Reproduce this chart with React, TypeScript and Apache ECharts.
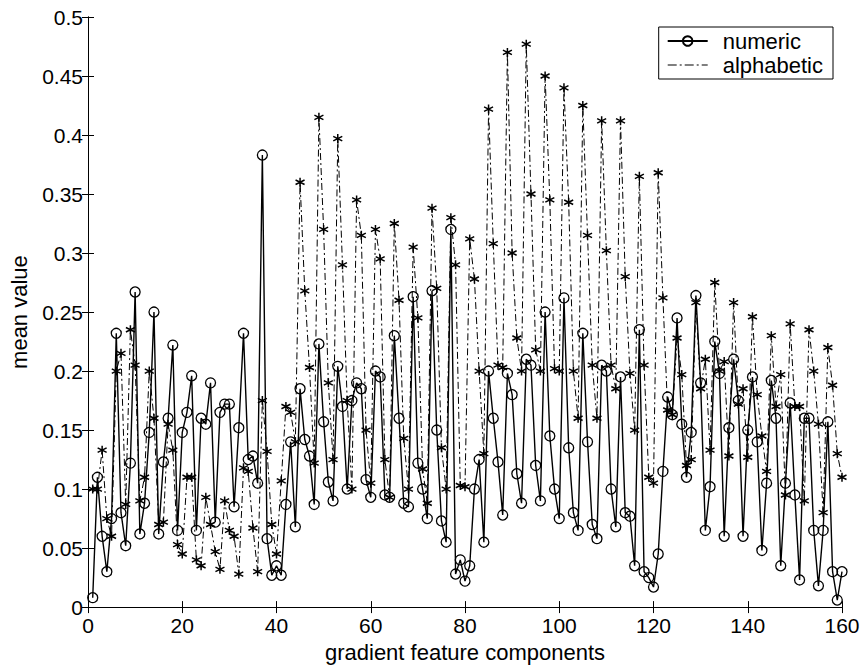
import React, { useEffect, useRef } from "react";
import * as echarts from "echarts";

const xIndex: number[] = Array.from({ length: 160 }, (_, k) => k + 1);

const numericValues: number[] = [
  0.008, 0.11, 0.06, 0.03, 0.075, 0.232, 0.08, 0.052, 0.122, 0.267,
  0.062, 0.088, 0.148, 0.25, 0.062, 0.123, 0.16, 0.222, 0.065, 0.148,
  0.165, 0.196, 0.065, 0.16, 0.155, 0.19, 0.072, 0.165, 0.172, 0.172,
  0.085, 0.152, 0.232, 0.125, 0.128, 0.105, 0.383, 0.058, 0.027, 0.035,
  0.027, 0.087, 0.14, 0.068, 0.185, 0.142, 0.128, 0.087, 0.223, 0.157,
  0.106, 0.09, 0.204, 0.17, 0.1, 0.175, 0.19, 0.185, 0.108, 0.093,
  0.2, 0.195, 0.095, 0.093, 0.23, 0.16, 0.088, 0.085, 0.263, 0.122,
  0.1, 0.075, 0.268, 0.15, 0.073, 0.055, 0.32, 0.028, 0.04, 0.022,
  0.035, 0.1, 0.125, 0.055, 0.2, 0.16, 0.123, 0.078, 0.198, 0.18,
  0.113, 0.088, 0.21, 0.205, 0.12, 0.09, 0.25, 0.145, 0.1, 0.075,
  0.262, 0.135, 0.08, 0.065, 0.232, 0.14, 0.07, 0.058, 0.205, 0.2,
  0.1, 0.068, 0.195, 0.08, 0.077, 0.035, 0.235, 0.03, 0.025, 0.017,
  0.045, 0.115, 0.178, 0.163, 0.245, 0.155, 0.11, 0.148, 0.264, 0.19,
  0.065, 0.102, 0.225, 0.198, 0.06, 0.152, 0.21, 0.175, 0.06, 0.15,
  0.195, 0.14, 0.048, 0.105, 0.192, 0.16, 0.035, 0.105, 0.173, 0.095,
  0.023, 0.16, 0.16, 0.065, 0.018, 0.065, 0.157, 0.03, 0.006, 0.03,
];

const alphabeticValues: number[] = [
  0.1, 0.1, 0.133, 0.075, 0.06, 0.2, 0.215, 0.087, 0.235, 0.205,
  0.09, 0.11, 0.2, 0.16, 0.07, 0.072, 0.155, 0.133, 0.053, 0.045,
  0.11, 0.11, 0.04, 0.035, 0.093, 0.07, 0.047, 0.032, 0.09, 0.065,
  0.06, 0.028, 0.118, 0.115, 0.067, 0.03, 0.175, 0.132, 0.07, 0.045,
  0.107, 0.17, 0.165, 0.14, 0.36, 0.268, 0.203, 0.122, 0.415, 0.32,
  0.19, 0.125, 0.397, 0.29, 0.175, 0.1, 0.345, 0.315, 0.15, 0.105,
  0.32, 0.295, 0.125, 0.093, 0.325, 0.26, 0.143, 0.1, 0.305, 0.245,
  0.117, 0.088, 0.338, 0.27, 0.135, 0.1, 0.33, 0.29, 0.103, 0.102,
  0.312, 0.278, 0.2, 0.13, 0.422, 0.308, 0.205, 0.203, 0.47, 0.3,
  0.228, 0.2, 0.477, 0.35, 0.218, 0.2, 0.45, 0.345, 0.202, 0.2,
  0.44, 0.343, 0.2, 0.16, 0.425, 0.315, 0.205, 0.16, 0.412, 0.302,
  0.205, 0.185, 0.412, 0.28, 0.198, 0.15, 0.365, 0.205, 0.11, 0.105,
  0.368, 0.262, 0.167, 0.163, 0.228, 0.197, 0.12, 0.125, 0.258, 0.185,
  0.21, 0.133, 0.275, 0.2, 0.208, 0.128, 0.258, 0.172, 0.185, 0.127,
  0.246, 0.18, 0.145, 0.115, 0.23, 0.17, 0.197, 0.095, 0.24, 0.17,
  0.17, 0.09, 0.235, 0.2, 0.155, 0.08, 0.22, 0.188, 0.13, 0.11,
];

const seriesNames: string[] = ["numeric", "alphabetic"];
const xTitle = "gradient feature components";
const yTitle = "mean value";

const FONT = "Liberation Sans, Arial, Helvetica, sans-serif";
const ASTERISK = "path://M0,-5L0,5M-4.33,-2.5L4.33,2.5M-4.33,2.5L4.33,-2.5";
const DASHDOT_ICON = "path://M0,0h9v1.2h-9zM12,0h2v1.2h-2zM17,0h9v1.2h-9zM29,0h2v1.2h-2zM34,0h6v1.2h-6z";

export default function App() {
  const ref = useRef<HTMLDivElement>(null);
  useEffect(() => {
    if (!ref.current) return;
    const chart = echarts.init(ref.current, undefined, { renderer: "svg" });
    const numData = xIndex.map((x, k) => [x, numericValues[k]]);
    const alphaData = xIndex.map((x, k) => [x, alphabeticValues[k]]);
    const tickCommon = { show: true, inside: true, length: 6, lineStyle: { color: "#000", width: 1 } };
    const lineCommon = { show: true, lineStyle: { color: "#000", width: 1 } };
    chart.setOption({
      animation: false,
      backgroundColor: "#fff",
      textStyle: { fontFamily: FONT, color: "#000" },
      grid: { left: 87, right: 22, top: 17, bottom: 57, containLabel: false },
      legend: {
        orient: "vertical",
        right: 31,
        top: 27,
        backgroundColor: "#fff",
        borderColor: "#000",
        borderWidth: 1,
        borderRadius: 0,
        padding: [3, 10, 3, 8],
        itemWidth: 40,
        itemHeight: 12,
        itemGap: 2,
        textStyle: { fontSize: 22, color: "#000", fontFamily: FONT, padding: [0, 0, 0, 10] },
        data: [
          { name: seriesNames[0] },
          { name: seriesNames[1], icon: DASHDOT_ICON, itemStyle: { color: "#000", borderWidth: 0 } },
        ],
      },
      xAxis: [
        {
          type: "value",
          min: 0,
          max: 160,
          interval: 20,
          name: xTitle,
          nameLocation: "middle",
          nameGap: 30,
          nameTextStyle: { fontSize: 22, color: "#000", fontFamily: FONT },
          axisLine: lineCommon,
          axisTick: tickCommon,
          axisLabel: { fontSize: 21, color: "#000", margin: 8, fontFamily: FONT },
          splitLine: { show: false },
        },
        {
          type: "value",
          min: 0,
          max: 160,
          interval: 20,
          position: "top",
          axisLine: lineCommon,
          axisTick: tickCommon,
          axisLabel: { show: false },
          splitLine: { show: false },
        },
      ],
      yAxis: [
        {
          type: "value",
          min: 0,
          max: 0.5,
          interval: 0.05,
          name: yTitle,
          nameLocation: "middle",
          nameGap: 58,
          nameTextStyle: { fontSize: 22, color: "#000", fontFamily: FONT },
          axisLine: lineCommon,
          axisTick: tickCommon,
          axisLabel: { fontSize: 21, color: "#000", margin: 5, fontFamily: FONT },
          splitLine: { show: false },
        },
        {
          type: "value",
          min: 0,
          max: 0.5,
          interval: 0.05,
          position: "right",
          axisLine: lineCommon,
          axisTick: tickCommon,
          axisLabel: { show: false },
          splitLine: { show: false },
        },
      ],
      series: [
        {
          name: seriesNames[0],
          type: "line",
          data: numData,
          symbol: "circle",
          symbolSize: 10,
          showAllSymbol: true,
          lineStyle: { color: "#000", width: 1.4, type: "solid" },
          itemStyle: { color: "rgba(255,255,255,0)", borderColor: "#000", borderWidth: 1.3 },
          z: 3,
        },
        {
          name: seriesNames[1],
          type: "line",
          data: alphaData,
          symbol: ASTERISK,
          symbolSize: 9,
          showAllSymbol: true,
          lineStyle: { color: "#000", width: 1, type: [7, 3, 2, 3] },
          itemStyle: { color: "#000", borderColor: "#000", borderWidth: 1.5 },
          z: 2,
        },
      ],
    });
    return () => chart.dispose();
  }, []);
  return (
    <div
      ref={ref}
      style={{ position: "fixed", left: 0, top: 0, width: 864, height: 668 }}
    />
  );
}
